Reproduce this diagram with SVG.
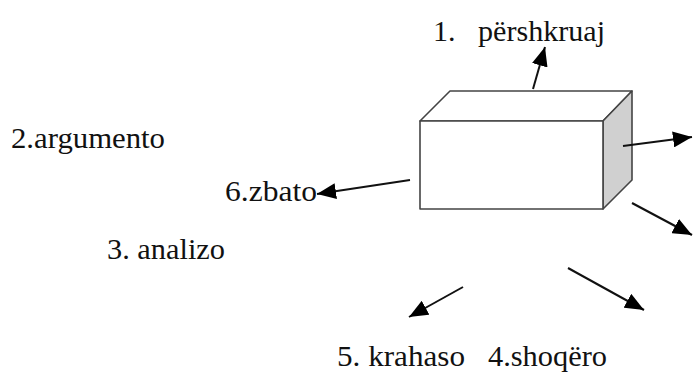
<svg xmlns="http://www.w3.org/2000/svg" width="693" height="372" viewBox="0 0 693 372">
<style>
.t{font-family:"Liberation Serif","DejaVu Serif","Times New Roman",serif;font-size:30px;fill:#111}
.c{stroke:#111;stroke-width:2;fill:none;marker-end:url(#ah)}
.b{stroke:#444;stroke-width:1.6;stroke-linejoin:round}
</style>
<defs>
<marker id="ah" markerUnits="userSpaceOnUse" markerWidth="20" markerHeight="16" refX="19" refY="8" orient="auto">
<path d="M0,0 L19,8 L0,16 z" fill="#000"/>
</marker>
</defs>
<rect width="693" height="372" fill="#fff"/>
<g id="box">
<polygon class="b" points="420,121 450,91 632,91 603,121" fill="#fff"/>
<polygon class="b" points="603,121 632,91 632,180 603,209" fill="#d0d0d0"/>
<rect class="b" x="420" y="121" width="183" height="88" fill="#fff"/>
</g>
<g id="connectors">
<line class="c" x1="533" y1="89" x2="545" y2="47"/>
<line class="c" x1="623" y1="146" x2="692" y2="137"/>
<line class="c" x1="632" y1="203" x2="692" y2="235"/>
<line class="c" x1="568" y1="268" x2="644" y2="310"/>
<line class="c" x1="463" y1="287" x2="409" y2="317"/>
<line class="c" x1="410" y1="180" x2="317" y2="194"/>
</g>
<g id="n1"><text class="t" x="433" y="41">1.<tspan x="478" textLength="127" lengthAdjust="spacingAndGlyphs">përshkruaj</tspan></text></g>
<g id="n2"><text class="t" x="11" y="148" textLength="154" lengthAdjust="spacingAndGlyphs">2.argumento</text></g>
<g id="n3"><text class="t" x="107" y="259" textLength="118" lengthAdjust="spacingAndGlyphs">3. analizo</text></g>
<g id="n4"><text class="t" x="488" y="366" textLength="119" lengthAdjust="spacingAndGlyphs">4.shoqëro</text></g>
<g id="n5"><text class="t" x="337" y="366" textLength="128" lengthAdjust="spacingAndGlyphs">5. krahaso</text></g>
<g id="n6"><text class="t" x="225" y="201" textLength="92" lengthAdjust="spacingAndGlyphs">6.zbato</text></g>
</svg>
